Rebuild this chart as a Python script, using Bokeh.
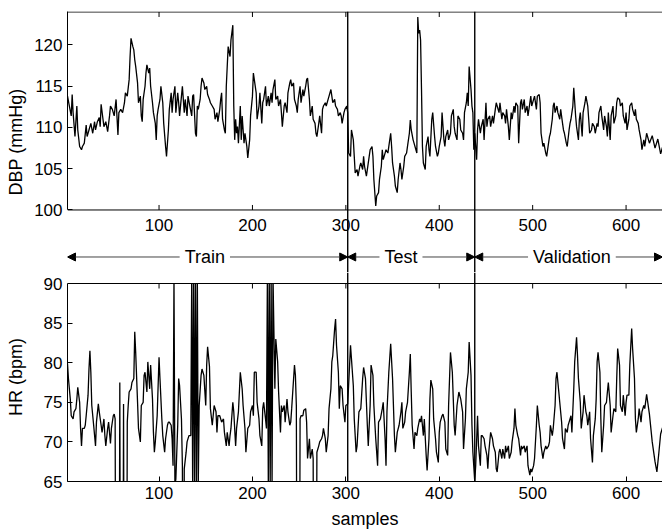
import math

from bokeh.plotting import figure
from bokeh.layouts import column
from bokeh.models import Range1d, Span, Arrow, NormalHead, Label, FixedTicker, BoxAnnotation
from bokeh.core.properties import value
from bokeh.embed import file_html
from bokeh.resources import INLINE

# ---- data ----
dbp_x = [2, 4, 6, 7, 8, 10, 12, 13, 15, 17, 18, 20, 22, 23, 25, 27, 29, 31, 32, 34, 36, 37, 38, 40, 41, 43, 45, 47, 48, 50,
         52, 54, 56, 57, 59, 61, 63, 64, 66, 68, 69, 70, 72, 73, 74, 75, 77, 78, 80, 81, 82, 83, 85, 86, 87, 89, 90, 91, 93, 94,
         96, 97, 98, 99, 101, 102, 104, 105, 107, 108, 110, 111, 113, 114, 115, 117, 118, 120, 121, 122, 124, 125, 127, 128, 130, 131, 133, 135, 136, 137,
         139, 140, 141, 142, 144, 145, 146, 148, 149, 151, 152, 154, 155, 157, 159, 160, 162, 163, 165, 166, 167, 168, 170, 171, 172, 173, 174, 175, 176, 177,
         179, 180, 181, 182, 183, 184, 185, 187, 188, 189, 191, 192, 194, 195, 197, 198, 200, 201, 202, 204, 205, 207, 208, 210, 211, 212, 214, 215, 217, 218,
         220, 221, 222, 224, 225, 227, 228, 230, 231, 232, 234, 235, 237, 238, 240, 241, 242, 244, 245, 247, 248, 249, 251, 252, 254, 255, 257, 258, 259, 261,
         262, 264, 265, 267, 268, 269, 271, 272, 274, 275, 276, 278, 279, 281, 282, 284, 285, 286, 288, 289, 291, 292, 294, 295, 296, 298, 299, 301, 302, 303,
         305, 306, 308, 309, 310, 312, 313, 315, 316, 318, 319, 320, 322, 323, 325, 326, 328, 329, 330, 332, 333, 335, 336, 338, 339, 340, 342, 343, 345, 346,
         348, 349, 350, 352, 353, 355, 356, 358, 359, 360, 362, 363, 365, 366, 368, 369, 370, 372, 373, 375, 376, 377, 378, 379, 380, 381, 382, 383, 385, 386,
         388, 389, 390, 392, 393, 395, 396, 398, 399, 400, 402, 403, 405, 406, 407, 409, 410, 412, 413, 415, 416, 417, 419, 420, 422, 423, 425, 426, 427, 429,
         430, 431, 432, 434, 435, 436, 437, 438, 440, 441, 442, 444, 445, 447, 448, 450, 451, 452, 454, 455, 457, 458, 460, 461, 462, 464, 465, 467, 468, 470,
         471, 472, 474, 475, 477, 478, 480, 481, 482, 484, 485, 487, 488, 489, 491, 492, 494, 495, 497, 498, 499, 501, 502, 504, 505, 507, 508, 509, 511, 512,
         514, 515, 517, 518, 519, 521, 522, 523, 524, 526, 527, 529, 530, 532, 533, 534, 536, 537, 539, 540, 541, 543, 544, 546, 547, 549, 550, 551, 553, 554,
         556, 557, 559, 560, 561, 563, 564, 566, 567, 569, 570, 571, 573, 574, 576, 577, 579, 580, 581, 583, 584, 586, 587, 589, 590, 591, 593, 594, 596, 597,
         599, 600, 601, 603, 604, 606, 607, 609, 610, 611, 613, 614, 616, 617, 619, 620, 622, 625, 628, 631, 634, 637, 639]
dbp_y = [113.8, 112.6, 111.4, 114.0, 111.8, 108.9, 112.6, 109.7, 107.7, 107.3, 107.7, 108.1, 110.3, 108.9, 109.7, 110.5, 109.3, 110.7, 109.7, 110.7,
         111.2, 110.1, 112.8, 111.0, 110.1, 110.7, 109.5, 111.4, 112.6, 112.2, 111.4, 113.4, 109.1, 111.8, 112.2, 111.8, 113.0, 114.2, 113.8, 115.8,
         118.6, 120.8, 119.8, 119.4, 118.2, 117.4, 115.4, 113.0, 113.8, 111.4, 110.7, 113.4, 115.0, 116.6, 117.6, 116.6, 117.2, 115.0, 113.0, 111.8,
         110.5, 108.5, 111.4, 112.2, 113.4, 115.0, 113.0, 110.5, 107.7, 106.5, 109.7, 112.2, 114.2, 111.8, 113.4, 115.0, 111.8, 114.2, 113.0, 111.4,
         113.8, 115.0, 111.8, 113.4, 111.4, 113.8, 112.6, 111.4, 113.8, 114.0, 109.3, 108.9, 112.6, 112.2, 113.4, 115.0, 116.0, 115.4, 114.6, 115.0,
         114.0, 113.4, 113.0, 112.6, 112.2, 111.0, 111.8, 110.7, 112.2, 113.4, 114.2, 111.0, 109.7, 109.3, 115.0, 117.4, 119.8, 119.2, 118.6, 120.6,
         122.4, 112.6, 108.5, 111.0, 109.3, 110.1, 108.1, 112.6, 108.5, 111.4, 108.1, 109.3, 107.7, 106.3, 108.5, 111.4, 113.8, 116.6, 115.8, 114.2,
         111.0, 112.6, 114.2, 110.5, 113.0, 113.4, 115.0, 112.6, 113.8, 112.6, 114.2, 113.0, 114.6, 115.8, 113.4, 113.8, 112.6, 113.4, 111.8, 110.1,
         112.6, 113.0, 111.8, 114.2, 115.4, 115.8, 115.0, 115.4, 113.4, 112.6, 111.8, 113.4, 115.0, 113.0, 114.6, 113.8, 115.0, 115.8, 116.0, 113.4,
         111.4, 112.6, 111.0, 110.5, 109.3, 108.9, 110.5, 111.4, 109.3, 112.2, 112.6, 113.0, 112.6, 113.4, 113.8, 114.6, 113.8, 113.0, 113.4, 112.6,
         112.2, 111.4, 111.8, 111.4, 110.5, 111.8, 112.2, 112.6, 111.8, 106.9, 106.5, 109.7, 108.5, 106.5, 104.5, 104.9, 104.1, 105.3, 105.7, 104.9,
         106.5, 105.3, 104.1, 104.9, 106.5, 107.3, 107.7, 106.5, 103.7, 100.5, 101.7, 102.1, 103.7, 105.3, 107.3, 106.1, 106.9, 107.3, 106.9, 107.7,
         109.3, 107.7, 105.7, 104.1, 102.9, 102.1, 103.7, 105.7, 104.9, 103.7, 105.3, 106.5, 106.9, 107.7, 109.3, 110.9, 109.7, 108.5, 108.1, 107.3,
         106.9, 123.4, 121.4, 121.8, 120.6, 114.6, 107.7, 105.7, 104.9, 107.7, 108.9, 107.3, 106.5, 111.0, 111.8, 108.9, 107.7, 106.5, 106.9, 107.7,
         108.9, 111.8, 108.5, 107.7, 108.9, 109.7, 108.5, 109.3, 111.4, 112.2, 110.1, 109.3, 108.5, 111.4, 111.0, 109.7, 109.3, 108.5, 111.8, 113.0,
         114.2, 112.6, 117.4, 114.6, 112.6, 111.8, 107.3, 109.3, 106.1, 109.7, 111.0, 109.3, 110.1, 111.0, 108.5, 113.0, 110.1, 111.0, 111.4, 110.1,
         111.4, 110.5, 112.2, 113.0, 112.6, 111.8, 113.0, 111.0, 111.8, 111.4, 110.5, 112.2, 110.1, 108.5, 111.8, 111.0, 112.6, 111.8, 113.0, 112.6,
         108.1, 113.0, 113.4, 112.2, 113.4, 111.8, 112.6, 111.4, 113.0, 113.8, 112.6, 113.4, 113.8, 112.2, 113.8, 114.0, 113.0, 109.3, 107.7, 108.1,
         106.9, 106.5, 108.1, 108.9, 109.3, 111.0, 112.6, 113.0, 111.8, 112.6, 111.8, 111.0, 112.2, 110.5, 109.7, 109.3, 108.1, 107.7, 109.7, 110.5,
         111.0, 112.6, 114.8, 111.4, 110.1, 108.5, 111.0, 111.8, 108.9, 111.8, 113.0, 113.8, 112.6, 111.0, 109.3, 109.7, 110.5, 110.1, 109.3, 110.5,
         110.1, 111.8, 112.6, 111.4, 109.7, 111.4, 110.1, 108.9, 111.8, 108.5, 111.4, 112.6, 110.5, 111.4, 113.0, 113.6, 113.4, 112.6, 113.0, 111.4,
         110.5, 111.8, 109.7, 111.0, 112.6, 113.0, 112.2, 111.4, 112.2, 111.0, 110.5, 109.7, 108.5, 107.3, 108.5, 107.7, 109.3, 108.1, 109.0, 107.5,
         108.6, 106.8, 107.6]

# HR: 91 / 64.5 = beats flickering off both ends of the scale, 30 = drop below the bottom of the scale
hr_x = [2, 3, 5, 6, 8, 9, 11, 12, 13, 15, 16, 17, 18, 20, 21, 22, 24, 25, 26, 27, 28, 30, 31, 32, 33, 35, 36, 38, 39, 41,
        42, 43, 45, 46, 48, 49, 51, 52, 53, 54, 57, 58, 59, 61, 62, 63, 65, 66, 67, 68, 70, 71, 73, 74, 75, 77, 78, 80, 81, 83,
        84, 85, 87, 88, 90, 91, 93, 94, 95, 96, 98, 100, 101, 103, 104, 106, 107, 109, 110, 111, 113, 114, 115, 116, 117, 118, 120, 121, 122, 124,
        125, 126, 127, 129, 130, 132, 133, 134, 135, 136, 137, 138, 139, 140, 141, 142, 143, 145, 146, 148, 150, 151, 152, 154, 155, 157, 159, 161, 162, 163,
        165, 166, 167, 169, 170, 172, 173, 175, 176, 177, 179, 180, 182, 183, 185, 187, 189, 190, 192, 193, 195, 197, 198, 200, 201, 202, 204, 205, 207, 208,
        210, 211, 212, 214, 215, 216, 217, 218, 219, 220, 221, 222, 224, 225, 227, 228, 230, 231, 232, 234, 235, 237, 238, 240, 241, 242, 245, 246, 247, 248,
        250, 251, 252, 254, 255, 257, 258, 259, 261, 262, 264, 265, 266, 268, 269, 271, 272, 274, 275, 276, 278, 279, 281, 282, 284, 285, 286, 288, 289, 290,
        292, 293, 294, 296, 297, 299, 300, 302, 304, 305, 306, 308, 309, 311, 312, 314, 316, 318, 319, 321, 323, 324, 326, 327, 329, 330, 332, 334, 335, 337,
        339, 340, 342, 343, 344, 346, 348, 350, 352, 353, 355, 357, 359, 360, 361, 363, 364, 366, 368, 369, 370, 371, 373, 374, 376, 377, 379, 380, 381, 383,
        384, 386, 387, 389, 390, 391, 393, 394, 396, 397, 399, 400, 401, 403, 404, 406, 407, 409, 410, 412, 414, 416, 417, 419, 421, 423, 425, 426, 428, 429,
        431, 432, 434, 435, 436, 438, 439, 441, 442, 444, 445, 446, 448, 449, 451, 452, 453, 455, 457, 458, 460, 461, 462, 464, 465, 467, 468, 470, 471, 472,
        474, 475, 477, 478, 480, 481, 482, 484, 485, 487, 488, 489, 491, 492, 494, 495, 497, 498, 499, 501, 502, 504, 505, 507, 508, 509, 511, 512, 514, 515,
        517, 518, 519, 521, 522, 524, 525, 526, 528, 529, 531, 532, 534, 535, 537, 538, 539, 541, 542, 544, 545, 547, 548, 549, 551, 552, 554, 555, 557, 558,
        559, 561, 562, 564, 565, 567, 568, 569, 570, 572, 573, 574, 576, 577, 579, 580, 581, 583, 584, 586, 587, 589, 590, 591, 593, 594, 596, 597, 599, 600,
        601, 603, 604, 606, 607, 609, 610, 611, 613, 614, 616, 617, 619, 620, 622, 625, 628, 631, 633, 635, 637, 639]
hr_y = [79.9, 78.0, 75.4, 73.3, 72.9, 73.8, 74.2, 75.4, 76.9, 75.0, 71.7, 69.5, 71.7, 71.7, 72.1, 73.3, 75.9, 79.2, 81.5, 78.8,
        74.6, 72.1, 70.8, 69.5, 72.5, 74.8, 73.8, 72.1, 71.2, 72.9, 70.8, 69.5, 71.7, 72.5, 69.8, 71.7, 73.3, 73.5, 72.9, 30.0,
        30.0, 77.5, 30.0, 30.0, 74.8, 30.0, 30.0, 72.5, 74.6, 76.3, 76.7, 77.5, 78.0, 83.9, 81.3, 75.0, 71.7, 70.0, 74.6, 75.0,
        78.4, 78.8, 76.3, 80.1, 76.7, 79.7, 75.4, 71.2, 68.7, 70.0, 73.3, 80.7, 78.0, 72.9, 70.8, 68.7, 70.4, 72.1, 72.5, 72.5,
        72.1, 70.4, 67.0, 91.0, 64.5, 65.3, 72.1, 78.0, 77.1, 72.9, 67.0, 30.0, 66.6, 68.7, 70.0, 70.8, 70.8, 70.8, 91.0, 64.5,
        91.0, 64.5, 91.0, 64.5, 91.0, 64.5, 74.6, 78.4, 79.2, 78.4, 74.6, 79.7, 82.0, 79.5, 74.2, 72.1, 74.6, 73.8, 71.2, 73.3,
        73.3, 72.9, 72.5, 72.9, 71.2, 69.5, 71.2, 69.5, 70.8, 71.7, 75.0, 73.8, 69.5, 71.7, 73.8, 78.8, 76.7, 74.6, 71.7, 68.7,
        71.7, 72.1, 73.8, 74.6, 73.3, 78.8, 78.8, 75.0, 72.9, 70.8, 69.5, 74.2, 75.0, 72.9, 71.7, 91.0, 64.5, 91.0, 64.5, 91.0,
        64.5, 91.0, 76.7, 83.0, 80.1, 76.3, 71.2, 74.6, 73.8, 74.6, 72.5, 75.4, 73.8, 72.1, 72.5, 74.2, 79.7, 78.4, 74.6, 30.0,
        30.0, 72.9, 73.3, 73.3, 74.0, 74.2, 72.5, 67.9, 70.4, 67.9, 69.1, 67.9, 30.0, 30.0, 68.7, 69.5, 70.0, 70.4, 70.8, 71.7,
        70.4, 68.7, 70.8, 74.2, 76.7, 80.1, 80.9, 84.3, 85.5, 82.2, 78.8, 74.2, 77.1, 76.7, 74.6, 72.5, 74.6, 74.8, 79.7, 82.2,
        80.5, 77.1, 72.9, 68.7, 69.5, 73.8, 74.2, 78.0, 79.4, 78.0, 72.1, 69.5, 74.6, 79.7, 78.4, 74.6, 70.4, 67.0, 72.5, 72.9,
        74.2, 75.0, 70.4, 67.0, 73.8, 78.8, 82.4, 78.0, 70.8, 68.7, 71.2, 72.1, 73.8, 75.0, 71.7, 72.5, 73.8, 75.0, 78.8, 81.1,
        76.3, 72.1, 69.1, 71.2, 70.8, 71.7, 72.9, 72.5, 73.3, 70.8, 72.9, 68.3, 66.4, 70.4, 75.4, 77.8, 76.7, 72.9, 70.4, 68.7,
        67.4, 71.2, 72.5, 73.3, 73.5, 72.5, 69.1, 68.3, 74.6, 81.3, 78.8, 72.1, 70.8, 74.6, 76.3, 75.4, 73.8, 69.1, 72.9, 76.7,
        78.8, 82.6, 78.4, 72.1, 68.7, 65.0, 67.0, 73.3, 69.5, 67.0, 70.8, 70.8, 70.4, 69.5, 68.3, 66.6, 68.7, 71.2, 70.4, 69.5,
        68.7, 66.6, 66.2, 68.7, 69.1, 67.9, 69.1, 67.9, 69.5, 68.7, 69.5, 67.9, 68.7, 70.0, 71.7, 74.2, 72.1, 70.8, 70.4, 68.3,
        69.5, 69.1, 69.5, 68.7, 69.5, 67.0, 65.8, 66.6, 66.2, 67.0, 67.9, 72.1, 74.6, 72.1, 71.2, 69.5, 67.9, 68.7, 69.5, 69.1,
        69.5, 70.0, 72.1, 70.8, 71.7, 74.6, 78.0, 78.8, 76.3, 75.0, 72.5, 70.4, 69.1, 71.7, 71.2, 72.1, 72.5, 73.3, 71.2, 76.7,
        80.1, 83.2, 80.9, 78.0, 75.0, 71.7, 73.8, 75.9, 73.8, 73.3, 72.1, 73.8, 70.4, 67.4, 70.8, 72.9, 75.4, 80.1, 81.3, 78.8,
        72.9, 68.7, 72.1, 74.6, 75.0, 76.3, 77.5, 74.6, 71.2, 73.3, 74.2, 73.8, 78.0, 81.8, 79.7, 74.6, 73.8, 75.9, 73.3, 75.0,
        75.9, 75.9, 79.7, 84.3, 81.8, 78.0, 72.9, 71.2, 72.9, 74.2, 72.5, 73.8, 74.6, 74.2, 76.0, 73.5, 70.0, 67.5, 66.2, 68.5,
        71.0, 71.8]

x_ticks = [100, 200, 300, 400, 500, 600]
dbp_ticks = [100, 105, 110, 115, 120]
hr_ticks = [65, 70, 75, 80, 85, 90]
dbp_lim = (100, 124)
hr_lim = (65, 90)
splits = [302, 438]                  # train | test | validation boundaries
phase_names = ["Train", "Test", "Validation"]
phase_bounds = [2, 302, 438, 639]
phase_label_x = [149, 359, 542]

FONT = "Liberation Sans"
W = 662
x_range = Range1d(2, 639)


def style(p, ticks, lim, label_standoff):
    p.outline_line_color = None
    p.xgrid.visible = False
    p.ygrid.visible = False
    p.background_fill_color = "white"
    p.border_fill_color = "white"
    for ax in p.axis:
        ax.major_tick_in = 5
        ax.major_tick_out = 0
        ax.minor_tick_line_color = None
        ax.axis_line_color = "black"
        ax.major_tick_line_color = "black"
        ax.major_label_text_font = FONT
        ax.major_label_text_font_size = "17px"
        ax.major_label_text_color = "black"
        ax.major_label_standoff = 5
        ax.axis_label_text_font = FONT
        ax.axis_label_text_font_size = "18px"
        ax.axis_label_text_font_style = "normal"
        ax.axis_label_text_color = "black"
    p.yaxis.ticker = FixedTicker(ticks=ticks)
    p.yaxis.bounds = lim
    p.yaxis.axis_label_standoff = label_standoff


def border(p, y_edge, inward):
    # box edge of a panel plus MATLAB style inward ticks
    p.add_layout(Span(location=y_edge, dimension="width", line_color="black", line_width=1, level="overlay"))
    p.ray(x=x_ticks, y=[y_edge] * len(x_ticks), length=5, length_units="screen",
          angle=inward * math.pi / 2, line_color="black", line_width=1)


def split_lines(p):
    for s in splits:
        p.add_layout(Span(location=s, dimension="height", line_color="black", line_width=1.4, level="overlay"))


# ---- top panel (DBP) plus the band below it ----
top = figure(width=W, height=272, x_range=x_range, y_range=Range1d(92.42, 124.06),
             x_axis_location=None, output_backend="svg", toolbar_location=None,
             min_border_left=67, min_border_right=0, min_border_top=11, min_border_bottom=0)
top.line(dbp_x, dbp_y, line_color="black", line_width=1.3)
top.yaxis.axis_label = "DBP (mmHg)"
style(top, dbp_ticks, dbp_lim, 5)
border(top, dbp_lim[1], -1)
border(top, dbp_lim[0], 1)
top.text(x=x_ticks, y=[dbp_lim[0]] * len(x_ticks), text=[str(t) for t in x_ticks], y_offset=9,
         text_font=value(FONT), text_font_size=value("17px"), text_color="black",
         text_align="center", text_baseline="top")

band_y = 94.3
for name, x0, x1, lx in zip(phase_names, phase_bounds[:-1], phase_bounds[1:], phase_label_x):
    top.add_layout(Arrow(x_start=x0, y_start=band_y, x_end=x1, y_end=band_y,
                         start=NormalHead(size=8, fill_color="black", line_color="black", line_width=1),
                         end=NormalHead(size=8, fill_color="black", line_color="black", line_width=1),
                         line_color="#444444", line_width=1))
    top.add_layout(Label(x=lx, y=band_y, text=name, text_align="center", text_baseline="middle",
                         text_font=FONT, text_font_size="18px", text_color="black",
                         background_fill_color="white", padding=5))
split_lines(top)

# ---- bottom panel (HR) ----
bot = figure(width=W, height=259, x_range=x_range, y_range=Range1d(65, 91.39),
             output_backend="svg", toolbar_location=None,
             min_border_left=67, min_border_right=0, min_border_top=0, min_border_bottom=50)
bot.line(hr_x, hr_y, line_color="black", line_width=1.3)
# the strip above the panel belongs to the gap: hide the out-of-range spikes there
bot.add_layout(BoxAnnotation(bottom=hr_lim[1], top=hr_lim[1] + 20, fill_color="white", fill_alpha=1.0,
                             line_color=None, level="annotation"))
bot.yaxis.axis_label = "HR (bpm)"
bot.xaxis.axis_label = "samples"
bot.xaxis.ticker = FixedTicker(ticks=x_ticks)
style(bot, hr_ticks, hr_lim, 15)
bot.xaxis.axis_label_standoff = 7
border(bot, hr_lim[1], -1)
split_lines(bot)

layout = column(top, bot, spacing=0)
open("out.html", "w").write(file_html(layout, INLINE))
